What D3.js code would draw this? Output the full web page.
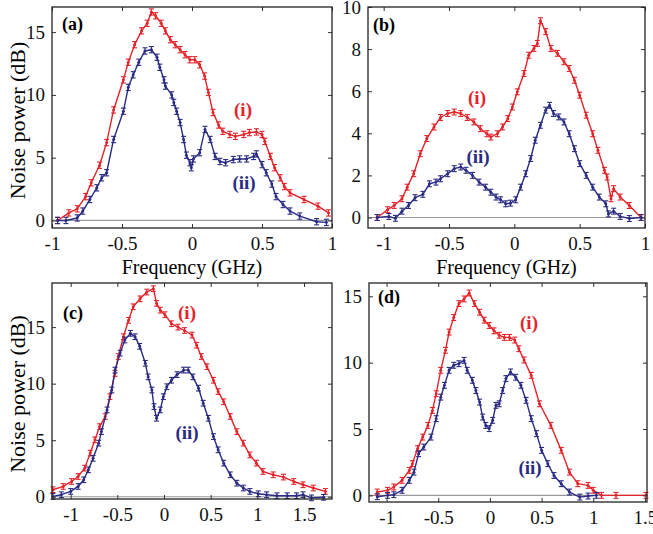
<!DOCTYPE html>
<html>
<head>
<meta charset="utf-8">
<script src="https://cdn.jsdelivr.net/npm/d3@7"></script>
</head>
<body style="margin:0">
<div style="position:absolute;left:-9999px;top:0;font-family:'Liberation Serif'">Noise <b>power</b></div>
<svg id="noiseFig" width="653" height="534"></svg>
<script>
// ---- Data: noise power spectra, curves (i) and (ii) for each panel ----
// Panel (a)
const aRedFreq   = [-0.96,-0.88,-0.82,-0.76,-0.72,-0.66,-0.61,-0.56,-0.49,-0.455,-0.41,-0.36,-0.32,-0.29,-0.26,-0.22,-0.19,-0.155,-0.12,-0.085,-0.05,-0.015,0.02,0.055,0.09,0.117,0.15,0.19,0.22,0.27,0.31,0.37,0.41,0.46,0.5,0.52,0.56,0.59,0.63,0.66,0.7,0.8,0.9,0.975];
const aRedNoise  = [0,0.6,0.93,1.9,3.0,4.4,6.2,8.8,11.2,12.6,14.0,15.1,15.7,16.6,16.3,15.7,15.1,14.4,14.0,13.6,13.2,12.8,12.8,12.4,11.5,10.2,8.6,7.6,7.1,6.85,6.7,6.85,7.0,7.05,6.85,6.3,5.1,4.2,3.4,2.7,2.2,1.67,1.14,0.6];
const aBlueFreq  = [-0.96,-0.9,-0.82,-0.78,-0.73,-0.68,-0.645,-0.61,-0.56,-0.49,-0.455,-0.42,-0.38,-0.336,-0.29,-0.25,-0.23,-0.2,-0.19,-0.145,-0.13,-0.11,-0.085,-0.06,-0.04,-0.015,-0.005,0.01,0.055,0.093,0.13,0.165,0.2,0.24,0.295,0.34,0.39,0.44,0.46,0.5,0.53,0.57,0.6,0.65,0.7,0.77,0.89,0.96];
const aBlueNoise = [0,0,0.2,0.75,1.67,2.6,3.4,3.8,6.45,8.7,10.6,11.6,12.6,13.5,13.6,13.0,12.2,11.2,10.7,10.0,9.4,8.7,7.8,6.45,5.2,4.6,4.2,4.9,5.4,7.25,6.45,5.1,4.7,4.6,4.85,4.9,4.9,5.1,5.3,4.45,3.8,2.9,1.9,1.27,0.75,0.35,-0.1,-0.15];

// Panel (b)
const bRedFreq   = [-1.05,-0.97,-0.92,-0.86,-0.82,-0.77,-0.72,-0.67,-0.615,-0.565,-0.51,-0.46,-0.41,-0.36,-0.31,-0.26,-0.21,-0.18,-0.13,-0.09,-0.05,-0.015,0.023,0.074,0.11,0.15,0.176,0.2,0.24,0.28,0.33,0.38,0.42,0.46,0.5,0.55,0.6,0.64,0.69,0.71,0.74,0.76,0.81,0.88,0.97];
const bRedNoise  = [0,0.37,0.57,0.89,1.44,2.08,3.03,3.75,4.3,4.75,4.94,5.01,4.94,4.75,4.54,4.22,3.98,3.82,3.98,4.3,4.7,5.25,5.97,6.84,7.71,8.03,8.27,9.35,8.83,8.03,7.8,7.4,7.08,6.52,5.81,4.86,3.98,3.19,2.24,1.92,0.89,1.37,0.97,0.57,0];
const bBlueFreq  = [-1.05,-0.96,-0.91,-0.86,-0.81,-0.76,-0.7,-0.65,-0.6,-0.565,-0.51,-0.46,-0.41,-0.37,-0.32,-0.27,-0.22,-0.18,-0.14,-0.105,-0.066,-0.03,0.01,0.048,0.087,0.125,0.16,0.2,0.24,0.27,0.3,0.34,0.38,0.42,0.46,0.5,0.55,0.6,0.65,0.7,0.72,0.76,0.81,0.88,0.97];
const bBlueNoise = [0,0.05,-0.04,0.3,0.57,0.94,1.1,1.6,1.68,1.84,2.08,2.32,2.4,2.24,2.0,1.68,1.44,1.2,0.97,0.84,0.65,0.68,0.84,1.44,2.08,2.8,3.67,4.38,5.1,5.33,4.94,4.78,4.54,3.98,3.27,2.56,2.0,1.44,0.97,0.65,0.17,0.3,0.05,-0.05,0];

// Panel (c)
const cRedFreq   = [-1.19,-1.08,-0.99,-0.92,-0.85,-0.79,-0.74,-0.69,-0.63,-0.58,-0.525,-0.49,-0.435,-0.38,-0.33,-0.257,-0.185,-0.114,-0.08,-0.04,0.01,0.08,0.15,0.22,0.3,0.35,0.4,0.46,0.53,0.58,0.64,0.71,0.78,0.85,0.92,0.99,1.06,1.17,1.28,1.39,1.49,1.6,1.73];
const cRedNoise  = [0.62,0.91,1.35,1.79,2.53,3.86,5.03,6.2,7.09,8.85,10.9,12.4,14.15,15.6,16.8,17.5,18.1,18.4,17.1,16.5,16.1,15.3,15.0,14.7,14.3,13.4,12.4,11.5,10.3,9.3,8.4,7.1,5.76,4.74,3.7,2.97,2.23,1.94,1.74,1.35,1.06,0.77,0.47];
const cBlueFreq  = [-1.19,-1.1,-1.0,-0.92,-0.86,-0.81,-0.76,-0.7,-0.67,-0.61,-0.56,-0.525,-0.47,-0.42,-0.36,-0.31,-0.26,-0.2,-0.17,-0.13,-0.107,-0.08,-0.04,-0.007,0.03,0.08,0.14,0.21,0.26,0.31,0.37,0.42,0.475,0.53,0.58,0.64,0.71,0.78,0.85,0.92,1.01,1.1,1.21,1.32,1.42,1.49,1.58,1.71];
const cBlueNoise = [0.03,0.18,0.47,0.91,1.5,2.38,3.4,4.74,5.76,7.68,9.44,11.2,12.7,13.86,14.45,14.15,13.3,11.8,10.6,9.44,7.97,6.94,7.68,8.85,9.73,10.3,10.8,11.2,11.2,10.6,9.6,8.27,6.94,5.32,4.15,2.97,1.94,1.2,0.77,0.47,0.26,0.18,0.09,0.09,0.09,0.18,-0.1,-0.05];

// Panel (d)
const dRedFreq   = [-1.09,-0.99,-0.93,-0.85,-0.78,-0.75,-0.7,-0.65,-0.6,-0.556,-0.52,-0.476,-0.43,-0.395,-0.35,-0.3,-0.25,-0.2,-0.15,-0.1,-0.055,-0.007,0.04,0.09,0.14,0.19,0.24,0.28,0.33,0.4,0.48,0.59,0.69,0.77,0.85,0.95,1.0,1.08,1.22,1.51];
const dRedNoise  = [0.25,0.38,0.63,1.13,1.88,2.39,3.52,4.39,5.27,6.4,7.66,9.42,10.93,12.3,13.4,14.45,14.8,15.25,14.45,13.8,13.2,12.8,12.4,12.06,11.9,11.9,11.7,11.05,10.2,9.04,6.9,5.27,3.39,1.75,0.88,0.75,0.38,0,0,0];
const dBlueFreq  = [-1.09,-0.99,-0.93,-0.85,-0.78,-0.735,-0.69,-0.64,-0.57,-0.52,-0.476,-0.44,-0.395,-0.35,-0.3,-0.25,-0.22,-0.17,-0.136,-0.1,-0.07,-0.04,-0.007,0.026,0.058,0.09,0.123,0.155,0.2,0.25,0.3,0.35,0.4,0.45,0.5,0.56,0.62,0.69,0.77,0.87,0.95,1.03];
const dBlueNoise = [-0.1,0,0.05,0.38,1.13,1.75,3.14,3.64,4.39,5.78,7.4,8.29,9.42,9.8,9.92,10.17,9.42,8.67,7.9,7.03,5.9,5.27,5.03,5.65,6.78,6.9,7.9,8.8,9.3,8.9,8.29,7.16,5.78,4.65,3.39,2.39,1.5,0.88,0.25,-0.13,-0.05,0];

// Axis ticks
const xTicksTop    = [-1, -0.5, 0, 0.5, 1];
const xTicksBottom = [-1, -0.5, 0, 0.5, 1, 1.5];
const aYTicks = [0, 5, 10, 15];
const bYTicks = [0, 2, 4, 6, 8, 10];
const cYTicks = [0, 5, 10, 15];
const dYTicks = [0, 5, 10, 15];

// Per-series error half-widths (dB)
const errA = 0.25, errB = 0.14, errC = 0.25, errD = 0.22;

// Curve labels
const curveLabels = ["(i)", "(ii)"];
const panelNames = ["(a)", "(b)", "(c)", "(d)"];

// ---- Layout ----
const RED = "#e5232b";
const BLUE = "#2a2b82";
const FONT = '"Liberation Serif"';

const panels = [
  { name: panelNames[0], box: [52, 332, 7, 228],   xDom: [-1, 1],       yDom: [-0.6, 17],
    xTicks: xTicksTop, yTicks: aYTicks, err: errA,
    red: [aRedFreq, aRedNoise], blue: [aBlueFreq, aBlueNoise],
    nameAt: [62, 24], iAt: [243, 110], iiAt: [244, 183], xLabel: true, yLabel: true },
  { name: panelNames[1], box: [368, 645, 7, 228],  xDom: [-1.12, 1],    yDom: [-0.5, 10],
    xTicks: xTicksTop, yTicks: bYTicks, err: errB,
    red: [bRedFreq, bRedNoise], blue: [bBlueFreq, bBlueNoise],
    nameAt: [373, 25], iAt: [477, 98], iiAt: [478, 157], xLabel: true, yLabel: false },
  { name: panelNames[2], box: [52, 332, 283, 499], xDom: [-1.2, 1.8],   yDom: [-0.2, 18.9],
    xTicks: xTicksBottom, yTicks: cYTicks, err: errC,
    red: [cRedFreq, cRedNoise], blue: [cBlueFreq, cBlueNoise],
    nameAt: [63, 313], iAt: [187, 313], iiAt: [187, 433], xLabel: false, yLabel: true },
  { name: panelNames[3], box: [369, 647, 283, 502], xDom: [-1.17, 1.52], yDom: [-0.5, 16],
    xTicks: xTicksBottom, yTicks: dYTicks, err: errD,
    red: [dRedFreq, dRedNoise], blue: [dBlueFreq, dBlueNoise],
    nameAt: [378, 297], iAt: [529, 323], iiAt: [530, 468], xLabel: false, yLabel: false }
];

const svg = d3.select("#noiseFig");
const fmt = d => String(d);

// text helper: serif face, vertically centred on y
function label(g, x, y, str, size, opts = {}) {
  const t = g.append("text")
    .attr("x", x).attr("y", y + size * 0.34)
    .attr("font-family", FONT).attr("font-size", size)
    .attr("text-anchor", opts.anchor || "start")
    .text(str);
  if (opts.bold) t.attr("font-weight", "bold");
  if (opts.color) t.attr("fill", opts.color);
  return t;
}

function draw() {
  svg.selectAll("*").remove();
  panels.forEach(p => {
    const [x0, x1, y0, y1] = p.box;
    const x = d3.scaleLinear().domain(p.xDom).range([x0, x1]);
    const y = d3.scaleLinear().domain(p.yDom).range([y1, y0]);
    const g = svg.append("g");

    // zero reference line
    g.append("line")
      .attr("x1", x0).attr("x2", x1).attr("y1", y(0)).attr("y2", y(0))
      .attr("stroke", "#9a9a9a").attr("stroke-width", 1.2);

    // curves with error bars
    const plot = g.append("g");
    [[p.red, RED], [p.blue, BLUE]].forEach(([series, color]) => {
      const pts = series[0].map((f, i) => [f, series[1][i]]);
      plot.append("path")
        .datum(pts)
        .attr("fill", "none").attr("stroke", color).attr("stroke-width", 1.4)
        .attr("stroke-linejoin", "round")
        .attr("d", d3.line().x(d => x(d[0])).y(d => y(d[1])));
      const bars = plot.append("g").attr("stroke", color).attr("stroke-width", 1.1);
      pts.forEach(d => {
        const cx = x(d[0]), ylo = y(d[1] - p.err), yhi = y(d[1] + p.err);
        bars.append("line").attr("x1", cx).attr("x2", cx).attr("y1", ylo).attr("y2", yhi);
        bars.append("line").attr("x1", cx - 2.5).attr("x2", cx + 2.5).attr("y1", ylo).attr("y2", ylo);
        bars.append("line").attr("x1", cx - 2.5).attr("x2", cx + 2.5).attr("y1", yhi).attr("y2", yhi);
      });
      plot.append("g").selectAll("circle").data(pts).join("circle")
        .attr("cx", d => x(d[0])).attr("cy", d => y(d[1])).attr("r", 1.5)
        .attr("fill", color);
    });

    // axes: inward ticks on all four sides
    const tl = 4;
    const styleAxis = a => {
      a.select(".domain").remove();
      a.attr("font-family", FONT).attr("font-size", 19);
      a.selectAll("text").attr("font-family", FONT).attr("font-size", 19).attr("fill", "#111");
    };
    g.append("g").attr("transform", `translate(0,${y1})`)
      .call(d3.axisBottom(x).tickValues(p.xTicks).tickSize(-tl).tickSizeOuter(0).tickFormat(fmt).tickPadding(8))
      .call(styleAxis)
      .call(a => a.selectAll("text").attr("dy", "0.75em"));
    g.append("g").attr("transform", `translate(0,${y0})`)
      .call(d3.axisTop(x).tickValues(p.xTicks).tickSize(-tl).tickSizeOuter(0).tickFormat(""))
      .call(styleAxis);
    g.append("g").attr("transform", `translate(${x0},0)`)
      .call(d3.axisLeft(y).tickValues(p.yTicks).tickSize(-tl).tickSizeOuter(0).tickFormat(fmt).tickPadding(7))
      .call(styleAxis);
    g.append("g").attr("transform", `translate(${x1},0)`)
      .call(d3.axisRight(y).tickValues(p.yTicks).tickSize(-tl).tickSizeOuter(0).tickFormat(""))
      .call(styleAxis);
    g.selectAll(".tick line").attr("stroke", "#333");

    // frame
    g.append("rect").attr("x", x0).attr("y", y0).attr("width", x1 - x0).attr("height", y1 - y0)
      .attr("fill", "none").attr("stroke", "#222").attr("stroke-width", 1.3);

    // panel name and curve labels
    label(g, p.nameAt[0], p.nameAt[1], p.name, 18, { bold: true });
    label(g, p.iAt[0], p.iAt[1], curveLabels[0], 19, { bold: true, anchor: "middle", color: RED });
    label(g, p.iiAt[0], p.iiAt[1], curveLabels[1], 19, { bold: true, anchor: "middle", color: BLUE });

    if (p.xLabel) {
      label(g, (x0 + x1) / 2, 267, "Frequency (GHz)", 20, { anchor: "middle" });
    }
    if (p.yLabel) {
      label(g, 0, 0, "Noise power (dB)", 22, { anchor: "middle" })
        .attr("transform", `translate(18,${(y0 + y1) / 2 + 3}) rotate(-90)`);
    }
  });
}

draw();
// redraw once the serif face is ready so text metrics use it
if (document.fonts && document.fonts.load) {
  Promise.all([
    document.fonts.load('19px "Liberation Serif"'),
    document.fonts.load('bold 19px "Liberation Serif"')
  ]).then(draw).catch(() => {});
}
</script>
</body>
</html>
